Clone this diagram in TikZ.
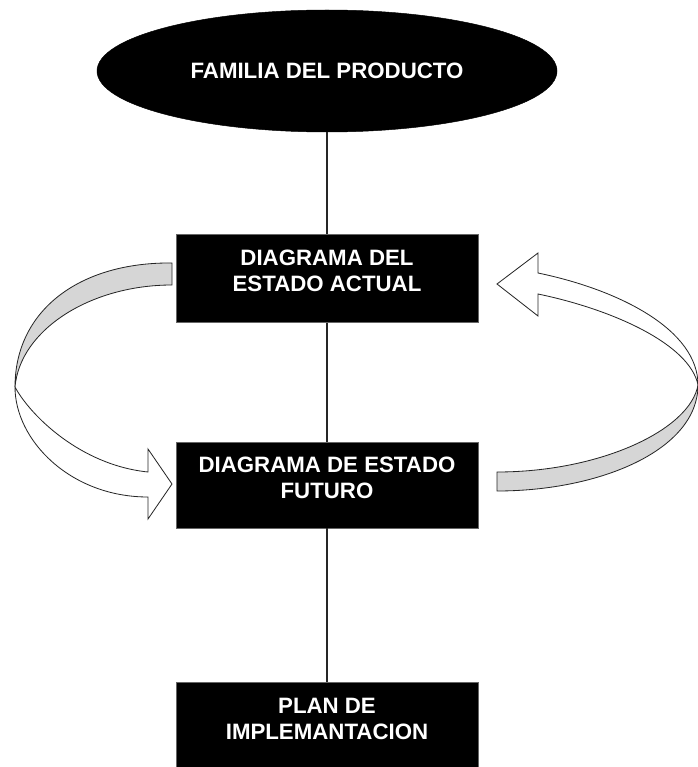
\documentclass[tikz,border=0pt]{standalone}
\usepackage{fontspec}
\setmainfont{Liberation Sans}
\usetikzlibrary{positioning,shapes.geometric}

\begin{document}
\begin{tikzpicture}[
    x=0.03cm, y=-0.03cm,
    ovalnode/.style={ellipse, fill=black, draw=black, minimum width=13.8cm, minimum height=3.66cm, text=white, font=\bfseries\fontsize{19}{22}\selectfont},
    boxnode/.style={rectangle, fill=black, draw=black!60, minimum width=9.06cm, minimum height=2.64cm, text=white, align=center, text depth=0.45cm, font=\bfseries\fontsize{19}{22}\selectfont},
    link/.style={draw=black!85, line width=1pt},
    backband/.style={fill=black!16, draw=black!85, line width=0.7pt},
    frontband/.style={fill=white, draw=black!85, line width=0.7pt}
    ]
        \useasboundingbox (0,0) rectangle (697,767);

        %Nodes
        \node[ovalnode]
            (fam)       at (327,71)               {FAMILIA DEL PRODUCTO};
        \node[boxnode]
            (actual)    [below=3.06cm of fam]     {DIAGRAMA DEL\\ESTADO ACTUAL};
        \node[boxnode, minimum height=2.58cm]
            (futuro)    [below=3.57cm of actual]  {DIAGRAMA DE ESTADO\\FUTURO};
        \node[boxnode]
            (plan)      [below=4.62cm of futuro]  {PLAN DE\\IMPLEMANTACION};

        %Lines
        \draw[link] (fam.south) -- (actual.north);
        \draw[link] (actual.south) -- (futuro.north);
        \draw[link] (futuro.south) -- (plan.north);

        %Loop arrows
        \filldraw[backband]
            (172,263) .. controls (80,262) and (15,310) .. (15,387)
            .. controls (20,330) and (90,285) .. (172,285) -- cycle;
        \filldraw[frontband]
            (15,387) .. controls (30,415) and (80,465) .. (148,472)
            -- (148,449) -- (172,484) -- (148,519) -- (148,497)
            .. controls (70,497) and (15,440) .. (15,387) -- cycle;
        \filldraw[backband]
            (698,385) .. controls (698,450) and (600,491) .. (497,491)
            -- (497,472) .. controls (600,472) and (690,430) .. (698,385) -- cycle;
        \filldraw[frontband]
            (698,385) .. controls (690,345) and (615,310) .. (538,294)
            -- (538,316) -- (497,284) -- (538,253) -- (538,273)
            .. controls (620,290) and (698,330) .. (698,385) -- cycle;
    \end{tikzpicture}
\end{document}
